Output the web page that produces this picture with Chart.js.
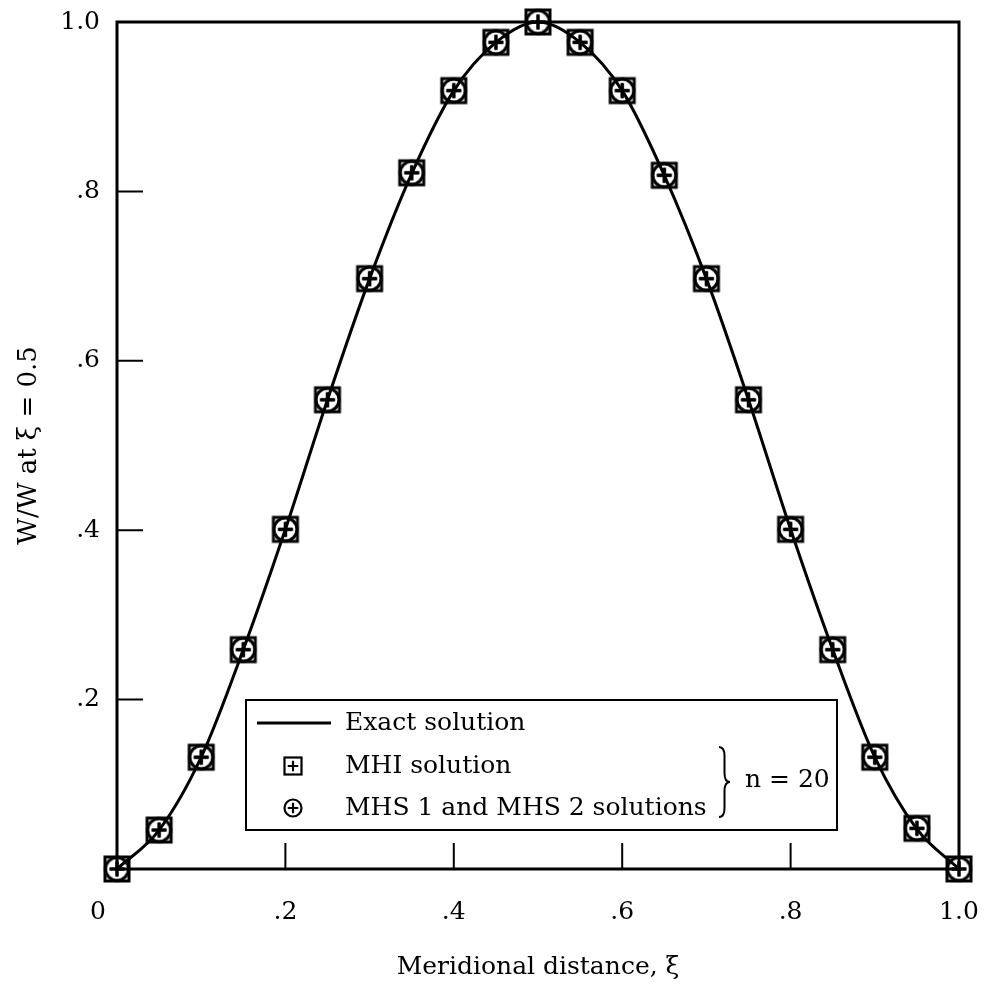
<!DOCTYPE html>
<html>
<head>
<meta charset="utf-8">
<script src="https://cdn.jsdelivr.net/npm/chart.js@4.4.1/dist/chart.umd.min.js"></script>
<style>
    html, body { margin: 0; padding: 0; background: #fff; }
</style>
</head>
<body>
<canvas id="deflectionChart" width="990" height="989"></canvas>
<script>
// meridional stations, xi
const xiValues = [0, 0.05, 0.1, 0.15, 0.2, 0.25, 0.3, 0.35, 0.4, 0.45, 0.5,
                  0.55, 0.6, 0.65, 0.7, 0.75, 0.8, 0.85, 0.9, 0.95, 1.0];
// W / W at xi = 0.5
const exactValues = [0, 0.046, 0.132, 0.259, 0.401, 0.554, 0.697, 0.821, 0.919, 0.976, 1.0,
                     0.976, 0.919, 0.819, 0.697, 0.554, 0.401, 0.259, 0.132, 0.047, 0];
const mhiValues = [0, 0.046, 0.132, 0.259, 0.401, 0.554, 0.697, 0.822, 0.919, 0.976, 1.0,
                   0.976, 0.919, 0.819, 0.697, 0.554, 0.401, 0.259, 0.132, 0.048, 0];
const mhsValues = [0, 0.046, 0.132, 0.259, 0.401, 0.554, 0.697, 0.822, 0.919, 0.976, 1.0,
                   0.976, 0.919, 0.819, 0.697, 0.554, 0.401, 0.259, 0.132, 0.048, 0];
const tickValues = [0, 0.2, 0.4, 0.6, 0.8, 1.0];
const legendLabels = ['Exact solution', 'MHI solution', 'MHS 1 and MHS 2 solutions'];
const braceLabel = 'n = 20';

const FONT = "'DejaVu Serif', serif";

function toPoints(values) {
    return xiValues.map((x, i) => ({ x: x, y: values[i] }));
}

function fmtTick(v) {
    if (Math.abs(v) < 1e-9) return '0';
    if (Math.abs(v - 1) < 1e-9) return '1.0';
    return '.' + Math.round(v * 10);
}

// marker images: square with plus, circle with plus
function makeMarker(kind, size, lw) {
    const c = document.createElement('canvas');
    const s = Math.ceil(size + lw * 2);
    c.width = s;
    c.height = s;
    const g = c.getContext('2d');
    const m = s / 2;
    const h = size / 2;
    g.strokeStyle = '#000';
    g.lineWidth = lw;
    if (kind === 'square') {
        g.strokeRect(m - h, m - h, size, size);
    } else {
        g.beginPath();
        g.arc(m, m, h, 0, Math.PI * 2);
        g.stroke();
    }
    const a = h * 0.62;
    g.beginPath();
    g.moveTo(m - a, m); g.lineTo(m + a, m);
    g.moveTo(m, m - a); g.lineTo(m, m + a);
    g.stroke();
    return c;
}

const squareMark = makeMarker('square', 24, 3);
const circleMark = makeMarker('circle', 23, 3);
const squareLegend = makeMarker('square', 17, 2.2);
const circleLegend = makeMarker('circle', 17, 2.2);

const framePlugin = {
    id: 'frameTicks',
    beforeDatasetsDraw(chart) {
        const { ctx, chartArea: a, scales } = chart;
        ctx.save();
        ctx.strokeStyle = '#000';
        ctx.lineWidth = 3;
        ctx.strokeRect(a.left, a.top, a.right - a.left, a.bottom - a.top);
        ctx.lineWidth = 2;
        ctx.beginPath();
        tickValues.slice(1, -1).forEach(v => {
            const px = scales.x.getPixelForValue(v);
            ctx.moveTo(px, a.bottom);
            ctx.lineTo(px, a.bottom - 26);
            const py = scales.y.getPixelForValue(v);
            ctx.moveTo(a.left, py);
            ctx.lineTo(a.left + 26, py);
        });
        ctx.stroke();
        // origin label sits left of the corner in the original
        ctx.fillStyle = '#000';
        ctx.font = '25px ' + FONT;
        ctx.textAlign = 'center';
        ctx.textBaseline = 'middle';
        ctx.fillText(fmtTick(0), scales.x.getPixelForValue(0) - 19, a.bottom + 43);
        ctx.restore();
    },
    afterDraw(chart) {
        const ctx = chart.ctx;
        ctx.save();
        // legend box
        const bx = 246, by = 700, bw = 591, bh = 130;
        ctx.fillStyle = '#fff';
        ctx.fillRect(bx, by, bw, bh);
        ctx.strokeStyle = '#000';
        ctx.lineWidth = 2;
        ctx.strokeRect(bx, by, bw, bh);

        const rows = [723, 766, 808];
        ctx.lineWidth = 2.8;
        ctx.beginPath();
        ctx.moveTo(257, rows[0]);
        ctx.lineTo(331, rows[0]);
        ctx.stroke();
        ctx.drawImage(squareLegend, 293 - squareLegend.width / 2, rows[1] - squareLegend.height / 2);
        ctx.drawImage(circleLegend, 293 - circleLegend.width / 2, rows[2] - circleLegend.height / 2);

        ctx.fillStyle = '#000';
        ctx.font = '25px ' + FONT;
        ctx.textAlign = 'left';
        ctx.textBaseline = 'middle';
        legendLabels.forEach((t, i) => ctx.fillText(t, 345, rows[i]));

        // brace
        const x = 719, y1 = 747, y2 = 817, w = 11, r = 9;
        const ym = (y1 + y2) / 2;
        ctx.lineWidth = 2;
        ctx.beginPath();
        ctx.moveTo(x, y1);
        ctx.quadraticCurveTo(x + w / 2, y1, x + w / 2, y1 + r);
        ctx.lineTo(x + w / 2, ym - r);
        ctx.quadraticCurveTo(x + w / 2, ym, x + w, ym);
        ctx.quadraticCurveTo(x + w / 2, ym, x + w / 2, ym + r);
        ctx.lineTo(x + w / 2, y2 - r);
        ctx.quadraticCurveTo(x + w / 2, y2, x, y2);
        ctx.stroke();
        ctx.fillText(braceLabel, 745, ym - 2);
        ctx.restore();
    }
};

const ctx = document.getElementById('deflectionChart').getContext('2d');
const chart = new Chart(ctx, {
    type: 'scatter',
    data: {
        datasets: [{
            label: legendLabels[0],
            data: toPoints(exactValues),
            showLine: true,
            borderColor: '#000',
            borderWidth: 3,
            pointRadius: 0,
            cubicInterpolationMode: 'monotone',
            fill: false,
            order: 3
        }, {
            label: legendLabels[1],
            data: toPoints(mhiValues),
            pointStyle: squareMark,
            pointRadius: 12,
            clip: false,
            order: 2
        }, {
            label: legendLabels[2],
            data: toPoints(mhsValues),
            pointStyle: circleMark,
            pointRadius: 12,
            clip: false,
            order: 1
        }]
    },
    options: {
        responsive: false,
        animation: false,
        events: [],
        layout: { autoPadding: false, padding: { top: 22, right: 31, left: 0, bottom: 0 } },
        plugins: {
            legend: { display: false },
            tooltip: { enabled: false }
        },
        scales: {
            x: {
                type: 'linear',
                min: 0,
                max: 1,
                afterFit: s => {
                    s.height = 120;
                    s.paddingLeft = 0;
                    s.paddingRight = 0;
                },
                afterBuildTicks: s => { s.ticks = tickValues.map(v => ({ value: v })); },
                grid: { display: false, drawTicks: false },
                border: { display: false },
                ticks: {
                    padding: 28,
                    color: '#000',
                    font: { family: FONT, size: 25 },
                    maxRotation: 0,
                    callback: v => (v === 0 ? '' : fmtTick(v))
                },
                title: {
                    display: true,
                    text: 'Meridional distance, ξ',
                    color: '#000',
                    font: { family: FONT, size: 25 },
                    padding: { top: 0, bottom: 7 }
                }
            },
            y: {
                type: 'linear',
                min: 0,
                max: 1,
                afterFit: s => {
                    s.width = 117;
                    s.paddingTop = 0;
                    s.paddingBottom = 0;
                },
                afterBuildTicks: s => { s.ticks = tickValues.map(v => ({ value: v })); },
                grid: { display: false, drawTicks: false },
                border: { display: false },
                ticks: {
                    padding: 17,
                    color: '#000',
                    font: { family: FONT, size: 25 },
                    callback: v => (v === 0 ? '' : fmtTick(v))
                },
                title: {
                    display: true,
                    text: 'W/W at ξ = 0.5',
                    color: '#000',
                    font: { family: FONT, size: 26 },
                    padding: { top: 14, bottom: 0 }
                }
            }
        }
    },
    plugins: [framePlugin]
});
</script>
</body>
</html>
